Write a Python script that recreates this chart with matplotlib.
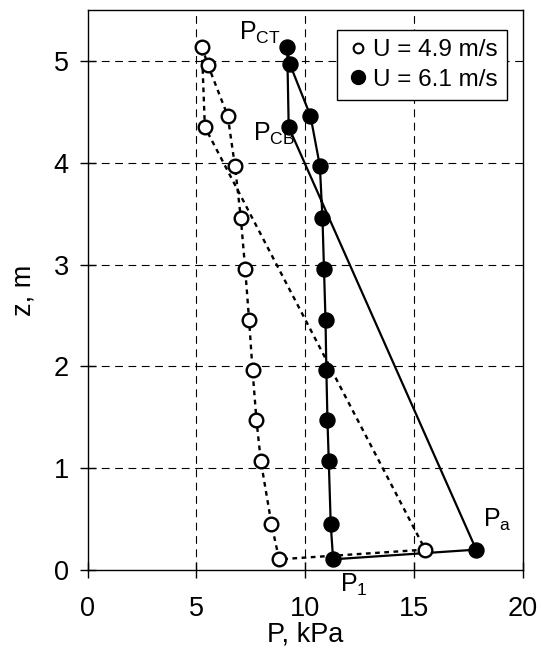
import matplotlib
matplotlib.use("Agg")
import matplotlib.pyplot as plt
from matplotlib.lines import Line2D

plt.rcParams['font.family'] = ['Liberation Sans', 'DejaVu Sans']
plt.rcParams['mathtext.default'] = 'regular'

# Pressure profiles around the circuit: top of column (CT), down the column,
# bottom point P1, point Pa, column bottom (CB), back to top.
z_49 = [5.14, 4.96, 4.46, 3.97, 3.46, 2.96, 2.46, 1.96, 1.47, 1.07, 0.45, 0.105, 0.20, 4.35]
p_49 = [5.25, 5.53, 6.44, 6.77, 7.04, 7.24, 7.42, 7.58, 7.76, 7.96, 8.45, 8.80, 15.51, 5.39]

z_61 = [5.14, 4.97, 4.46, 3.97, 3.46, 2.96, 2.46, 1.96, 1.47, 1.07, 0.45, 0.105, 0.20, 4.35]
p_61 = [9.17, 9.29, 10.24, 10.67, 10.79, 10.86, 10.93, 10.97, 11.02, 11.08, 11.17, 11.28, 17.85, 9.24]

series_labels = ['U = 4.9 m/s', 'U = 6.1 m/s']
x_ticks = [0, 5, 10, 15, 20]
y_ticks = [0, 1, 2, 3, 4, 5]

point_labels = ['P$_{CT}$', 'P$_{CB}$', 'P$_{a}$', 'P$_{1}$']
label_pos = [(6.95, 5.21), (7.6, 4.22), (18.15, 0.42), (11.6, -0.21)]

FS_AX = 19.5
FS_LEG = 17.5
FS_PT = 18

fig = plt.figure(figsize=(5.41, 6.53), dpi=100)
ax = fig.add_axes([87.5 / 541, 83 / 653, 435.5 / 541, 560 / 653])

ax.set_xlim(0, 20)
ax.set_ylim(0, 5.5)
ax.set_xticks(x_ticks)
ax.set_yticks(y_ticks)

for gx in x_ticks[1:-1]:
    ax.axvline(gx, color='black', lw=0.8, linestyle=(0, (7, 5)), zorder=1)
for gy in y_ticks[1:]:
    ax.axhline(gy, color='black', lw=0.8, linestyle=(0, (7, 5)), zorder=1)


def closed(v):
    return list(v) + [v[0]]


ax.plot(closed(p_49), closed(z_49), color='black', lw=1.7, linestyle=(0, (2, 1.9)),
        zorder=3)
ax.plot(closed(p_61), closed(z_61), color='black', lw=1.6, linestyle='-', zorder=3)
ax.plot(p_49, z_49, linestyle='none', marker='o', ms=9.8, mew=1.7,
        mfc='white', mec='black', zorder=4, clip_on=False)
ax.plot(p_61, z_61, linestyle='none', marker='o', ms=10.8, mew=1.0,
        mfc='black', mec='black', zorder=4, clip_on=False)

for txt, (px, pz) in zip(point_labels, label_pos):
    ax.text(px, pz, txt, fontsize=FS_PT, ha='left', va='baseline', zorder=5)

handles = [
    Line2D([], [], linestyle='none', marker='o', ms=7, mew=1.5,
           mfc='white', mec='black'),
    Line2D([], [], linestyle='none', marker='o', ms=10, mew=1.0,
           mfc='black', mec='black'),
]
leg = ax.legend(handles, series_labels, loc='upper right',
                bbox_to_anchor=(0.964, 0.964), borderaxespad=0,
                fontsize=FS_LEG, frameon=True, fancybox=False, framealpha=1,
                edgecolor='black', handlelength=0.9, handletextpad=0.2,
                borderpad=0.38, labelspacing=0.3)
leg.get_frame().set_linewidth(1.0)
leg.set_zorder(6)

for sp in ax.spines.values():
    sp.set_linewidth(1.0)
    sp.set_color('black')

ax.tick_params(axis='both', direction='inout', length=11, width=1.0,
               labelsize=FS_AX, colors='black')
ax.tick_params(axis='x', pad=13)
ax.tick_params(axis='y', pad=8)

ax.set_xlabel('P, kPa', fontsize=FS_AX, labelpad=0)
ax.set_ylabel('z, m', fontsize=FS_AX, labelpad=12)

fig.savefig('out.png', dpi=100)
